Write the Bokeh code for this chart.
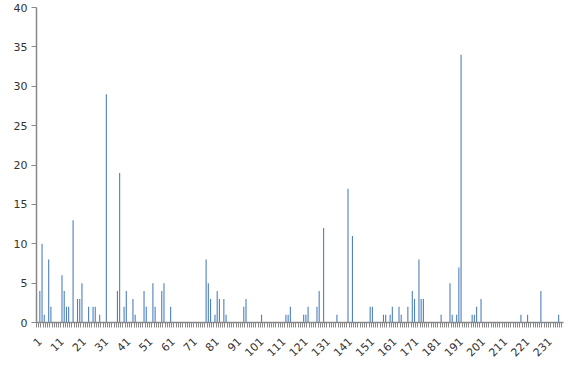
import math
from bokeh.plotting import figure
from bokeh.models import Range1d, FixedTicker, ColumnDataSource
from bokeh.embed import file_html
from bokeh.resources import INLINE

categories = list(range(1, 238))
values = [
    4, 10, 1, 0, 8, 2, 0, 0, 0, 0,
    6, 4, 2, 2, 0, 13, 0, 3, 3, 5,
    0, 0, 2, 0, 2, 2, 0, 1, 0, 0,
    29, 0, 0, 0, 0, 4, 19, 0, 2, 4,
    0, 0, 3, 1, 0, 0, 0, 4, 2, 0,
    0, 5, 2, 0, 0, 4, 5, 0, 0, 2,
    0, 0, 0, 0, 0, 0, 0, 0, 0, 0,
    0, 0, 0, 0, 0, 8, 5, 3, 0, 1,
    4, 3, 0, 3, 1, 0, 0, 0, 0, 0,
    0, 0, 2, 3, 0, 0, 0, 0, 0, 0,
    1, 0, 0, 0, 0, 0, 0, 0, 0, 0,
    0, 1, 1, 2, 0, 0, 0, 0, 0, 1,
    1, 2, 0, 0, 0, 2, 4, 0, 12, 0,
    0, 0, 0, 0, 1, 0, 0, 0, 0, 17,
    0, 11, 0, 0, 0, 0, 0, 0, 0, 2,
    2, 0, 0, 0, 0, 1, 1, 0, 1, 2,
    0, 0, 2, 1, 0, 0, 2, 0, 4, 3,
    0, 8, 3, 3, 0, 0, 0, 0, 0, 0,
    0, 1, 0, 0, 0, 5, 1, 0, 1, 7,
    34, 0, 0, 0, 0, 1, 1, 2, 0, 3,
    0, 0, 0, 0, 0, 0, 0, 0, 0, 0,
    0, 0, 0, 0, 0, 0, 0, 1, 0, 0,
    1, 0, 0, 0, 0, 0, 4, 0, 0, 0,
    0, 0, 0, 0, 1, 0, 0,
]
x_tick_labels = [1, 11, 21, 31, 41, 51, 61, 71, 81, 91, 101, 111, 121, 131, 141,
                 151, 161, 171, 181, 191, 201, 211, 221, 231]
y_ticks = [0, 5, 10, 15, 20, 25, 30, 35, 40]

src = ColumnDataSource(dict(x=categories, top=values))

p = figure(width=574, height=371, output_backend="svg", toolbar_location=None,
           x_range=Range1d(-0.5, 237.2), y_range=Range1d(0, 40),
           min_border_left=36, min_border_right=11, min_border_top=7,
           min_border_bottom=49)
p.background_fill_color = "white"
p.border_fill_color = "white"
p.outline_line_color = None
p.xgrid.visible = False
p.ygrid.visible = False

p.vbar(x="x", top="top", width=0.5, bottom=0, source=src,
       fill_color="#4F81BD", line_color=None)

axis_col = "#888888"
text_col = "#333333"

xa = p.xaxis[0]
xa.ticker = FixedTicker(ticks=x_tick_labels,
                        minor_ticks=[c - 0.5 for c in range(0, 238)])
xa.major_tick_out = 0
xa.major_tick_in = 0
xa.minor_tick_out = 5
xa.minor_tick_in = 0
xa.minor_tick_line_color = axis_col
xa.axis_line_color = axis_col
xa.axis_line_width = 1.5
xa.major_label_orientation = math.pi / 4
xa.major_label_standoff = 12
xa.major_label_text_font = "DejaVu Sans"
xa.major_label_text_font_size = "11px"
xa.major_label_text_color = text_col

ya = p.yaxis[0]
ya.ticker = FixedTicker(ticks=y_ticks)
ya.minor_tick_line_color = None
ya.major_tick_out = 5
ya.major_tick_in = 0
ya.major_tick_line_color = axis_col
ya.axis_line_color = axis_col
ya.axis_line_width = 1.5
ya.major_label_standoff = 4
ya.major_label_text_font = "DejaVu Sans"
ya.major_label_text_font_size = "11px"
ya.major_label_text_color = text_col

open("out.html", "w").write(file_html(p, INLINE))
